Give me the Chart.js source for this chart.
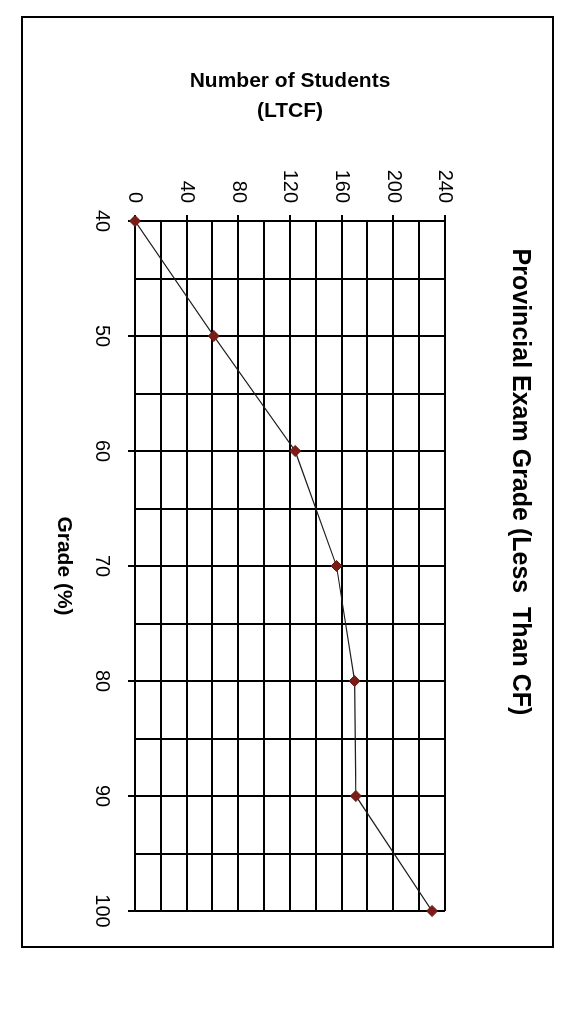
<!DOCTYPE html>
<html>
<head>
<meta charset="utf-8">
<title>Provincial Exam Grade (Less Than CF)</title>
<script src="https://cdn.jsdelivr.net/npm/chart.js@4"></script>
<style>
  html, body { margin: 0; padding: 0; background: #fff; }
  body { width: 567px; height: 1024px; position: relative; overflow: hidden; }
  #frame { position: absolute; left: 21px; top: 16px; width: 533px; height: 932px; box-sizing: border-box; border: 2px solid #000; }
  /* chart is drawn upright, then turned a quarter clockwise like the scan */
  #turn { position: absolute; left: 22px; top: 17px; width: 930px; height: 531px; transform-origin: 0 0; transform: translate(531px, 0) rotate(90deg); }
  #turn canvas { display: block; }
</style>
</head>
<body>
<div id="frame"></div>
<div id="turn"><canvas id="chart" width="930" height="531"></canvas></div>
<script>
const grades = [40, 50, 60, 70, 80, 90, 100];
const students = [0, 61, 124, 156, 170, 171, 230];
const gradeTicks = [40, 50, 60, 70, 80, 90, 100];
const studentTicks = [0, 40, 80, 120, 160, 200, 240];

const FONT = '"Liberation Sans", Arial, sans-serif';
Chart.defaults.font.family = FONT;
Chart.defaults.color = '#000';

const points = grades.map((g, i) => ({ x: g, y: students[i] }));

new Chart(document.getElementById('chart').getContext('2d'), {
  type: 'scatter',
  data: {
    datasets: [{
      data: points,
      showLine: true,
      borderColor: '#1e1e1e',
      borderWidth: 1.2,
      pointStyle: 'rectRot',
      pointRadius: 5.5,
      pointBackgroundColor: '#7b1c17',
      pointBorderColor: '#6a1712',
      pointBorderWidth: 1,
      clip: false
    }]
  },
  options: {
    responsive: false,
    animation: false,
    devicePixelRatio: 1,
    layout: { padding: { left: 36, right: 36, top: 0, bottom: 0 } },
    plugins: {
      legend: { display: false },
      tooltip: { enabled: false },
      title: {
        display: true,
        text: 'Provincial Exam Grade (Less  Than CF)',
        color: '#000',
        font: { size: 25, weight: 'bold', lineHeight: 1.2 },
        padding: { top: 18, bottom: 60 }
      }
    },
    scales: {
      x: {
        type: 'linear',
        position: 'bottom',
        min: gradeTicks[0],
        max: gradeTicks[gradeTicks.length - 1],
        afterFit: s => { s.height = 113; },
        border: { display: true, color: '#000', width: 2 },
        grid: {
          color: '#000',
          lineWidth: 2,
          tickLength: 7,
          tickColor: c => gradeTicks.includes(c.tick.value) ? '#000' : 'rgba(0,0,0,0)'
        },
        ticks: {
          stepSize: 5,
          autoSkip: false,
          maxRotation: 0,
          padding: 14,
          font: { size: 20 },
          callback: v => gradeTicks.includes(v) ? String(v) : ''
        },
        title: {
          display: true,
          text: 'Grade (%)',
          font: { size: 21, weight: 'bold', lineHeight: 1.2 },
          padding: { top: 4, bottom: 29 }
        }
      },
      y: {
        type: 'linear',
        position: 'left',
        min: studentTicks[0],
        max: studentTicks[studentTicks.length - 1],
        afterFit: s => { s.width = 168; },
        border: { display: true, color: '#000', width: 2 },
        grid: {
          color: '#000',
          lineWidth: 2,
          tickLength: 6,
          tickColor: c => studentTicks.includes(c.tick.value) ? '#000' : 'rgba(0,0,0,0)'
        },
        ticks: {
          stepSize: 20,
          autoSkip: false,
          padding: 12,
          font: { size: 20 },
          callback: v => studentTicks.includes(v) ? String(v) : ''
        },
        title: {
          display: true,
          text: ['Number of Students', '(LTCF)'],
          font: { size: 21, weight: 'bold', lineHeight: 1.43 },
          padding: { top: 13, bottom: 0 }
        }
      }
    }
  }
});
</script>
</body>
</html>
